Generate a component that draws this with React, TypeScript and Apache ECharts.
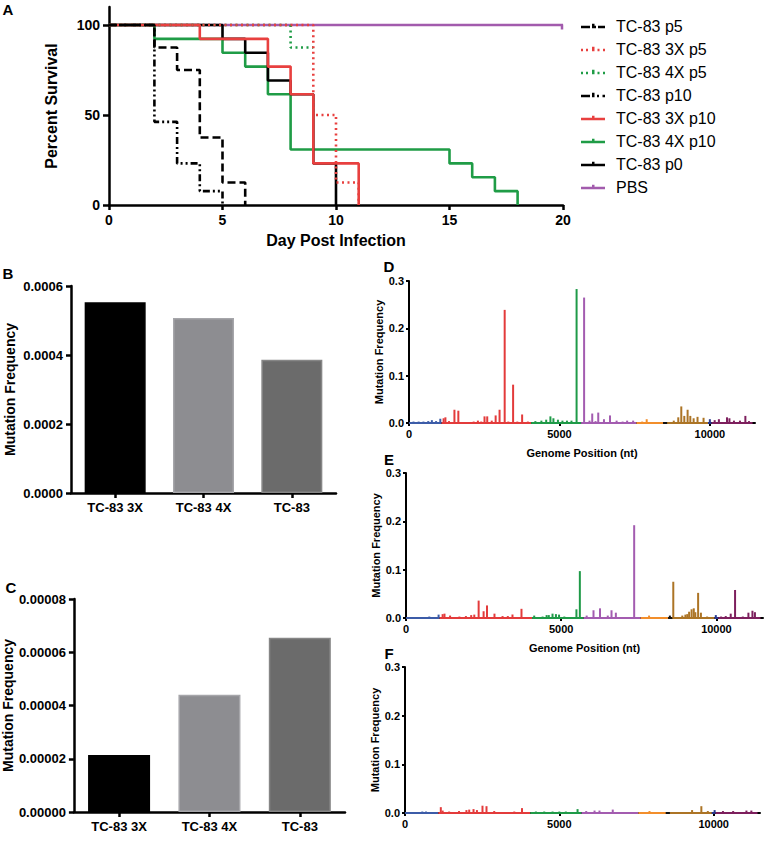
import React, { useEffect, useRef } from 'react';
import * as echarts from 'echarts';

const FONT = '"Liberation Sans", Arial, Helvetica, sans-serif';

// ---------- Panel A : survival ----------
const survivalNames = ['TC-83 p5', 'TC-83 3X p5', 'TC-83 4X p5', 'TC-83 p10', 'TC-83 3X p10', 'TC-83 4X p10', 'TC-83 p0', 'PBS'];
const survP5 = [[0, 100], [2, 87.5], [3, 75], [4, 37.5], [5, 12.5], [6, 0]];
const surv3xP5 = [[0, 100], [9, 50], [10, 12.5], [11, 0]];
const surv4xP5 = [[0, 100], [8, 87.5], [9, 87.5]];
const survP10 = [[0, 100], [2, 46.2], [3, 23.1], [4, 7.7], [5, 0]];
const surv3xP10 = [[0, 100], [4, 92.3], [7, 76.9], [8, 61.5], [9, 23.1], [11, 0]];
const surv4xP10 = [[0, 100], [2, 92.3], [5, 84.6], [6, 76.9], [7, 61.5], [8, 30.8], [15, 23.1], [16, 15.4], [17, 7.7], [18, 0]];
const survP0 = [[0, 100], [5, 92.3], [6, 84.6], [7, 69.2], [8, 61.5], [9, 23.1], [10, 0]];
const survPBS = [[0, 100], [20, 100]];
const survData = [survP5, surv3xP5, surv4xP5, survP10, surv3xP10, surv4xP10, survP0, survPBS];
const dayTicks = [0, 5, 10, 15, 20];
const survTicks = [0, 50, 100];

// ---------- Panels B & C : bars ----------
const barCats = ['TC-83 3X', 'TC-83 4X', 'TC-83'];
const barValsB = [0.000553, 0.000507, 0.000386];
const barValsC = [0.0000214, 0.000044, 0.0000654];

// ---------- Panels D, E, F : genome spikes ----------
const segStarts = [0, 1080, 4060, 5720, 7560, 8450, 8580, 9940, 10060];
const segEnds = [1080, 4060, 5720, 7560, 8450, 8580, 9940, 10060, 11420];
const genomeTicks = [0, 5000, 10000];
const freqTicks = [0, 0.1, 0.2, 0.3];

const dPos = [150, 320, 480, 640, 760, 900, 1040,
  1150, 1210, 1330, 1510, 1640, 1800, 2000, 2150, 2290, 2400, 2510, 2600, 2750, 2880, 3010, 3180, 3300, 3460, 3600, 3760, 3950,
  4200, 4400, 4560, 4700, 4800, 4950, 5100, 5250, 5400, 5570,
  5820, 6000, 6090, 6200, 6290, 6480, 6680, 6900, 7100, 7250, 7450,
  7750, 7900, 8200,
  8800, 8950, 9050, 9150, 9260, 9350, 9460, 9590, 9790,
  10000,
  10160, 10300, 10570, 10650, 10800, 11000, 11180, 11300];
const dFreq = [0.003, 0.003, 0.003, 0.004, 0.006, 0.004, 0.009,
  0.01, 0.012, 0.004, 0.028, 0.026, 0.002, 0.002, 0.003, 0.005, 0.003, 0.014, 0.014, 0.005, 0.016, 0.028, 0.239, 0.003, 0.081, 0.003, 0.018, 0.003,
  0.004, 0.005, 0.007, 0.014, 0.01, 0.007, 0.005, 0.005, 0.005, 0.283,
  0.265, 0.005, 0.02, 0.004, 0.022, 0.008, 0.016, 0.005, 0.003, 0.005, 0.005,
  0.003, 0.008, 0.002,
  0.005, 0.012, 0.035, 0.015, 0.028, 0.015, 0.01, 0.013, 0.011,
  0.008,
  0.006, 0.008, 0.012, 0.01, 0.005, 0.005, 0.015, 0.004];

const ePos = [200, 370, 530, 750, 900, 1050,
  1180, 1240, 1420, 1720, 1930, 2100, 2200, 2340, 2500, 2610, 2850, 3110, 3280, 3430, 3720,
  4130, 4400, 4530, 4600, 4720, 4830, 4930, 5100, 5490, 5600,
  5820, 6040, 6250, 6500, 6620, 6760, 7350,
  7830,
  8500,
  8610, 8900, 9000, 9060, 9120, 9200, 9270, 9320, 9410, 9500, 9700,
  9980,
  10150, 10300, 10460, 10600, 10850, 11030, 11160, 11240];
const eFreq = [0.002, 0.002, 0.002, 0.003, 0.002, 0.007,
  0.008, 0.009, 0.005, 0.003, 0.004, 0.006, 0.007, 0.036, 0.014, 0.026, 0.009, 0.004, 0.004, 0.007, 0.019,
  0.005, 0.003, 0.006, 0.006, 0.009, 0.008, 0.007, 0.003, 0.018, 0.097,
  0.005, 0.016, 0.02, 0.005, 0.016, 0.011, 0.192,
  0.005,
  0.005,
  0.075, 0.005, 0.007, 0.008, 0.013, 0.018, 0.02, 0.012, 0.052, 0.011, 0.003,
  0.006,
  0.003, 0.004, 0.009, 0.058, 0.003, 0.011, 0.015, 0.012];

const fPos = [560, 680,
  1160, 1220, 1430, 1750, 1990, 2080, 2220, 2330, 2510, 2640, 2890, 3270, 3540, 3790,
  4240, 4510, 4780, 5000, 5210, 5590,
  5870, 6140, 6300, 6730, 7060,
  7920,
  9300, 9600, 9810,
  10030,
  10300, 10630, 11060, 11220];
const fFreq = [0.003, 0.003,
  0.012, 0.005, 0.003, 0.004, 0.006, 0.007, 0.008, 0.006, 0.015, 0.014, 0.004, 0.002, 0.003, 0.01,
  0.003, 0.003, 0.003, 0.003, 0.003, 0.008,
  0.004, 0.005, 0.005, 0.007, 0.002,
  0.004,
  0.006, 0.014, 0.004,
  0.006,
  0.004, 0.004, 0.005, 0.005];

// ---------- styles ----------
const RED = '#e8403f';
const GREEN = '#1f9c46';
const PURPLE = '#a25bad';
const survColors = ['#000', RED, GREEN, '#000', RED, GREEN, '#000', PURPLE];
const survDash: any[] = [[8, 4], [2, 3.5], [2, 3.5], [7, 3, 2, 3, 2, 3], 'solid', 'solid', 'solid', 'solid'];
const drawOrder = [7, 5, 6, 4, 2, 1, 0, 3];
// legend icons (24 x 4.5 box: small tick on top of the line sample)
const TICK = 'M11,0h2.5v2h-2.5z';
const ICON_SOLID = `path://M0,2h24v2.5h-24z${TICK}`;
const ICON_DASH = `path://M0,2h9v2.5h-9z M11,2h4v2.5h-4z M17,2h7v2.5h-7z ${TICK}`;
const ICON_DOT = `path://M0,2h2v2.5h-2z M5,2h2v2.5h-2z M11,2h2.5v2.5h-2.5z M16.5,2h2v2.5h-2z M22,2h2v2.5h-2z ${TICK}`;
const ICON_DASHDOT = `path://M0,2h9v2.5h-9z M11,2h2.5v2.5h-2.5z M16,2h2v2.5h-2z M21.5,2h2.5v2.5h-2.5z ${TICK}`;
const legendIcons = [ICON_DASH, ICON_DOT, ICON_DOT, ICON_DASHDOT, ICON_SOLID, ICON_SOLID, ICON_SOLID, ICON_SOLID];
const segColors = ['#3c5ca8', '#e33b3b', '#1f9a48', '#a35cb0', '#f28e2b', '#111111', '#ac7425', '#27388f', '#7d1f5d'];
const barColors = ['#000000', '#8d8d91', '#6b6b6b'];
const barBorders = ['#000000', '#a6a6aa', '#868686'];

const grids = [
  { left: 109, top: 7, width: 454, height: 198 },
  { left: 71, top: 286, width: 265, height: 207 },
  { left: 72, top: 599, width: 273, height: 213 },
  { left: 409, top: 281, width: 346, height: 142 },
  { left: 406, top: 473, width: 357, height: 145 },
  { left: 405, top: 667, width: 355, height: 146 },
];

function colorFor(p: number) {
  for (let i = 0; i < segStarts.length; i++) {
    if (p >= segStarts[i] && p < segEnds[i]) return segColors[i];
  }
  return segColors[segColors.length - 1];
}

const lbl = (size: number, extra: any = {}) => ({ fontSize: size, fontWeight: 'bold', color: '#000', fontFamily: FONT, ...extra });
const axLine = (w: number) => ({ show: true, onZero: false, lineStyle: { color: '#000', width: w } });
const axTick = (len: number, w: number, extra: any = {}) => ({ show: true, length: len, lineStyle: { color: '#000', width: w }, ...extra });

export default function App() {
  const ref = useRef<HTMLDivElement>(null);
  useEffect(() => {
    if (!ref.current) return;
    const chart = echarts.init(ref.current, undefined, { renderer: 'svg' });

    const xAxes: any[] = [];
    const yAxes: any[] = [];
    const series: any[] = [];

    // A
    xAxes.push({
      type: 'value', gridIndex: 0, min: 0, max: 20, interval: 5,
      axisLine: axLine(2.5), axisTick: axTick(5, 2.5, { customValues: dayTicks }), splitLine: { show: false },
      axisLabel: { ...lbl(14), margin: 8, customValues: dayTicks },
      name: 'Day Post Infection', nameLocation: 'middle', nameGap: 27, nameTextStyle: lbl(16),
    });
    yAxes.push({
      type: 'value', gridIndex: 0, min: 0, max: 110, interval: 50,
      axisLine: axLine(2.5), axisTick: axTick(6, 2.5, { customValues: survTicks }), splitLine: { show: false },
      axisLabel: { ...lbl(14), margin: 9, customValues: survTicks },
      name: 'Percent Survival', nameLocation: 'middle', nameGap: 50, nameTextStyle: lbl(16),
    });
    drawOrder.forEach((i) => {
      const s: any = {
        type: 'line', name: survivalNames[i], xAxisIndex: 0, yAxisIndex: 0,
        data: survData[i], step: 'end', symbol: 'none',
        lineStyle: { color: survColors[i], width: 2.6, type: survDash[i] },
        itemStyle: { color: survColors[i] }, emphasis: { disabled: true }, silent: true,
      };
      if (i === 7) {
        const last = survData[i][survData[i].length - 1];
        s.markPoint = {
          silent: true, symbol: 'rect', symbolSize: [2.5, 5], symbolOffset: [-1, 2], label: { show: false },
          itemStyle: { color: survColors[i] },
          data: [{ coord: last }],
        };
      }
      series.push(s);
    });

    // B & C
    [[1, barValsB, 4, 0.0006, 0.0002, 61], [2, barValsC, 5, 0.00008, 0.00002, 62]].forEach(([g, vals, dec, max, step, bw]: any) => {
      xAxes.push({
        type: 'category', gridIndex: g, data: barCats,
        axisLine: axLine(2.5), axisTick: axTick(5, 2.5, { alignWithLabel: true }),
        axisLabel: { ...lbl(13), margin: 8 },
      });
      yAxes.push({
        type: 'value', gridIndex: g, min: 0, max, interval: step,
        axisLine: axLine(2.5), axisTick: axTick(5, 2.5), splitLine: { show: false },
        axisLabel: { ...lbl(13), margin: 8, formatter: (v: number) => v.toFixed(dec) },
        name: 'Mutation Frequency', nameLocation: 'middle', nameGap: 54, nameTextStyle: lbl(14),
      });
      series.push({
        type: 'bar', xAxisIndex: g, yAxisIndex: g, barWidth: bw, silent: true,
        data: vals.map((v: number, i: number) => ({ value: v, itemStyle: { color: barColors[i], borderColor: barBorders[i], borderWidth: 1.5 } })),
      });
    });

    // D, E, F
    const spikes = [[dPos, dFreq], [ePos, eFreq], [fPos, fFreq]];
    spikes.forEach(([pos, freq], k) => {
      const g = 3 + k;
      xAxes.push({
        type: 'value', gridIndex: g, min: 0, max: 11500, interval: 5000,
        axisLine: axLine(2), axisTick: axTick(3, 2, { customValues: genomeTicks }), splitLine: { show: false },
        axisLabel: { ...lbl(11), margin: 5, customValues: genomeTicks, formatter: (v: number) => String(v) },
        name: k < 2 ? 'Genome Position (nt)' : '', nameLocation: 'middle', nameGap: 24, nameTextStyle: lbl(11),
      });
      yAxes.push({
        type: 'value', gridIndex: g, min: 0, max: 0.3, interval: 0.1,
        axisLine: axLine(2), axisTick: axTick(3, 2, { customValues: freqTicks }), splitLine: { show: false },
        axisLabel: { ...lbl(11), margin: 5, formatter: (v: number) => v.toFixed(1), customValues: freqTicks },
        name: 'Mutation Frequency', nameLocation: 'middle', nameGap: 19, nameTextStyle: lbl(11),
      });
      segStarts.forEach((s, i) => {
        series.push({
          type: 'line', xAxisIndex: g, yAxisIndex: g, symbol: 'none', silent: true, z: 2,
          data: [[s, 0], [segEnds[i], 0]], lineStyle: { color: segColors[i], width: 2 },
        });
      });
      series.push({
        type: 'bar', xAxisIndex: g, yAxisIndex: g, barWidth: 2, silent: true, z: 3,
        data: (pos as number[]).map((p, i) => ({ value: [p, (freq as number[])[i]], itemStyle: { color: colorFor(p) } })),
      });
    });

    const letters = [['A', 8, 9], ['B', 8, 273], ['C', 11, 587], ['D', 389, 266], ['E', 389, 459], ['F', 389, 653]];

    chart.setOption({
      animation: false,
      textStyle: { fontFamily: FONT },
      grid: grids.map((g) => ({ ...g, containLabel: false })),
      xAxis: xAxes,
      yAxis: yAxes,
      series,
      legend: {
        data: survivalNames.map((n, i) => ({ name: n, icon: legendIcons[i] })),
        orient: 'vertical', left: 576, top: 13,
        itemWidth: 24, itemHeight: 4.5, itemGap: 7, selectedMode: false,
        itemStyle: { borderWidth: 0 },
        textStyle: { fontSize: 16, lineHeight: 16, color: '#000', fontFamily: FONT, padding: [0, 0, 0, 6] },
      },
      graphic: letters.map(([t, x, y]) => ({
        type: 'text', x, y,
        style: { text: t, fill: '#000', font: `bold 15px ${FONT}`, textAlign: 'center', textVerticalAlign: 'middle' },
      })),
    });
    return () => chart.dispose();
  }, []);
  return <div ref={ref} style={{ position: 'absolute', left: 0, top: 0, width: 765, height: 853, background: '#fff' }} />;
}
